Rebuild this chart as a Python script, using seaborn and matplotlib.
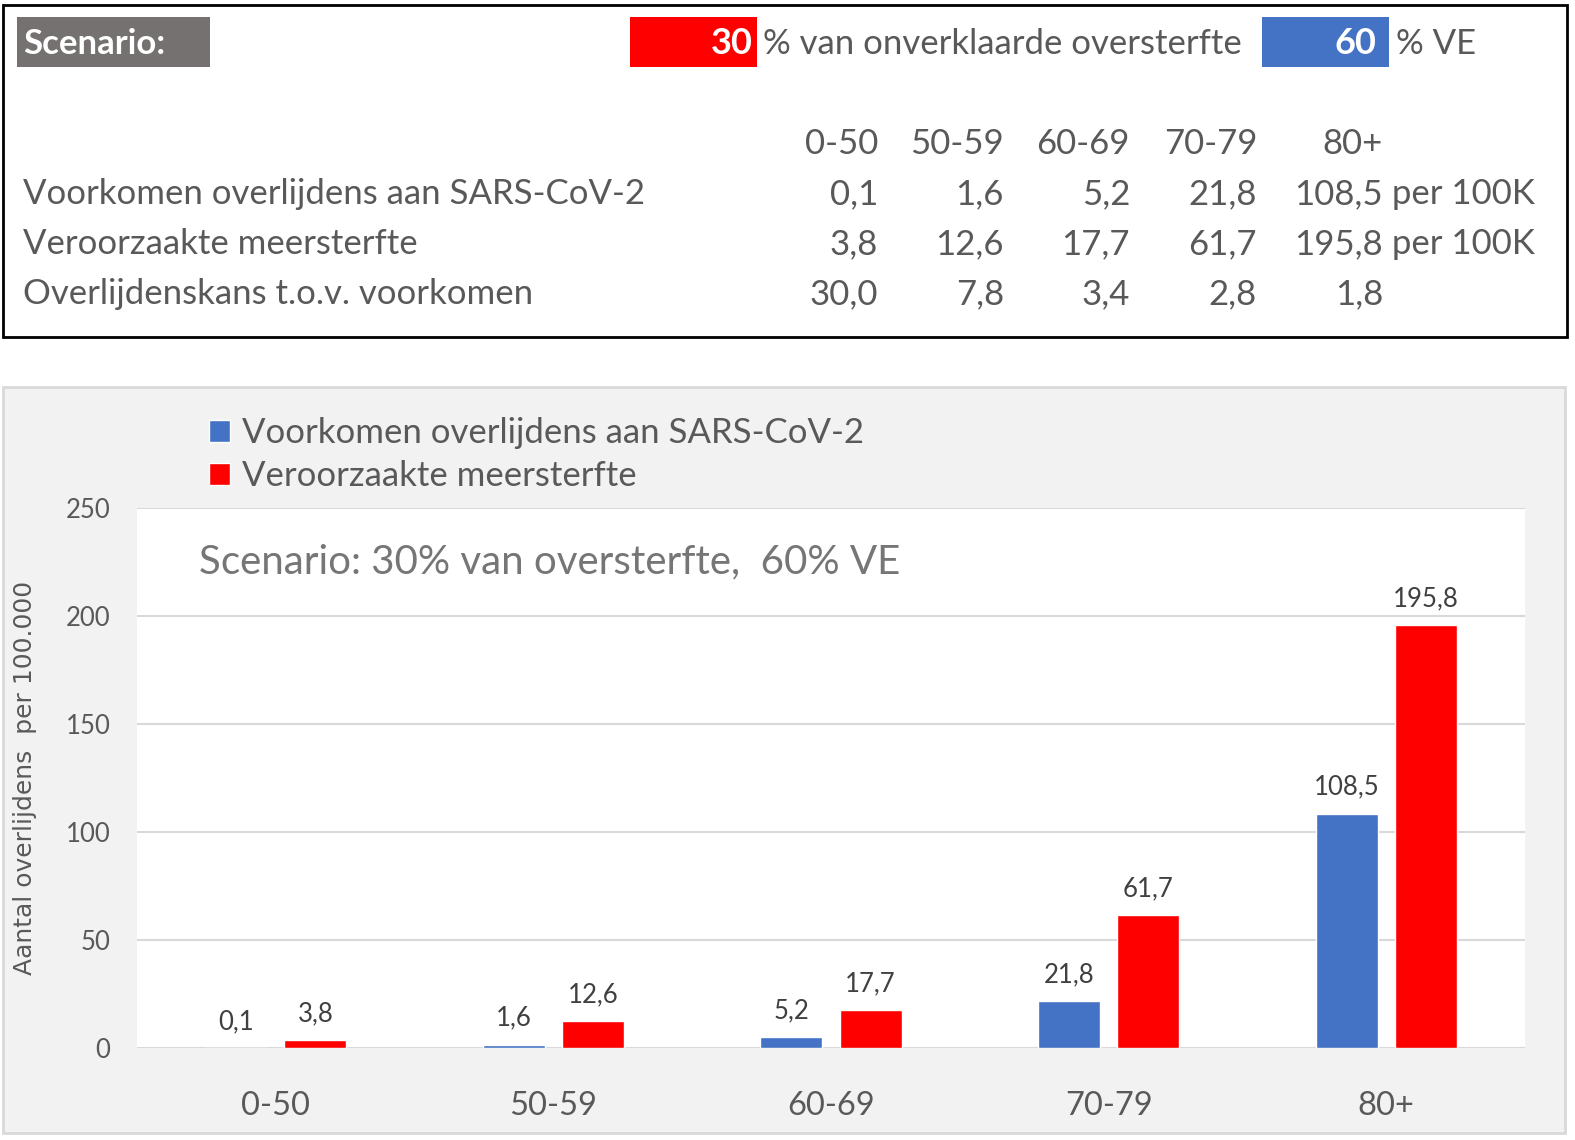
import pandas as pd
import matplotlib.pyplot as plt
import seaborn as sns
from matplotlib.patches import Rectangle, Patch

# Data
age_groups = ['0-50', '50-59', '60-69', '70-79', '80+']
voorkomen = [0.1, 1.6, 5.2, 21.8, 108.5]
meersterfte = [3.8, 12.6, 17.7, 61.7, 195.8]
overlijdenskans = [30.0, 7.8, 3.4, 2.8, 1.8]
scenario_pct = 30
ve_pct = 60

series_names = ['Voorkomen overlijdens aan SARS-CoV-2', 'Veroorzaakte meersterfte']
row3_name = 'Overlijdenskans t.o.v. voorkomen'

BLUE = '#4472C4'
RED = '#FF0000'
TXT = '#595959'

df = pd.DataFrame({
    'Leeftijd': age_groups * 2,
    'Waarde': voorkomen + meersterfte,
    'Reeks': [series_names[0]] * 5 + [series_names[1]] * 5,
})


def nl(v):
    return f'{v:.1f}'.replace('.', ',')


sns.set_theme(style='white')
plt.rcParams['font.family'] = ['Lato', 'DejaVu Sans']

fig = plt.figure(figsize=(15.75, 11.4), dpi=100)
fig.patch.set_facecolor('white')

# Background axes in pixel coordinates for the table and panels
bg = fig.add_axes([0, 0, 1, 1])
bg.set_xlim(0, 1575)
bg.set_ylim(1140, 0)
bg.axis('off')

FS = 25

# Top scenario/table box
bg.add_patch(Rectangle((3, 5), 1564, 332, fill=False, edgecolor='black', lw=2))
bg.add_patch(Rectangle((17, 17), 193, 50, facecolor='#767171', edgecolor='none'))
bg.text(23, 44, 'Scenario:', color='white', fontsize=25, fontweight='bold', va='center', ha='left')
bg.add_patch(Rectangle((630, 17), 127, 50, facecolor=RED, edgecolor='none'))
bg.text(753, 44, str(scenario_pct), color='white', fontsize=26, fontweight='bold', va='center', ha='right')
bg.text(763, 44, '% van onverklaarde oversterfte', color=TXT, fontsize=FS, va='center', ha='left')
bg.add_patch(Rectangle((1262, 17), 127, 50, facecolor=BLUE, edgecolor='none'))
bg.text(1376, 44, str(ve_pct), color='white', fontsize=26, fontweight='bold', va='center', ha='right')
bg.text(1396, 44, '% VE', color=TXT, fontsize=FS, va='center', ha='left')

col_right = [878, 1004, 1130, 1257, 1383]
rows_y = [144, 194, 244, 294]
for x, g in zip(col_right, age_groups):
    bg.text(x, rows_y[0], g, color=TXT, fontsize=FS, va='center', ha='right')
table_rows = [(series_names[0], voorkomen, ' per 100K'),
              (series_names[1], meersterfte, ' per 100K'),
              (row3_name, overlijdenskans, '')]
for (name, vals, unit), y in zip(table_rows, rows_y[1:]):
    bg.text(23, y, name, color=TXT, fontsize=FS, va='center', ha='left')
    for x, v in zip(col_right, vals):
        bg.text(x, y, nl(v), color=TXT, fontsize=FS, va='center', ha='right')
    if unit:
        bg.text(col_right[-1], y, unit, color=TXT, fontsize=FS, va='center', ha='left')

# Chart panel background
bg.add_patch(Rectangle((3, 387), 1562, 746, facecolor='#F2F2F2', edgecolor='#D9D9D9', lw=2))

# Chart axes
ax = fig.add_axes([137 / 1575, 1 - 1048 / 1140, 1388 / 1575, 540 / 1140])
ax.set_facecolor('white')
sns.barplot(data=df, x='Leeftijd', y='Waarde', hue='Reeks', palette=[BLUE, RED],
            width=0.57, gap=0.215, ax=ax, legend=False, saturation=1)

for cont in ax.containers:
    ax.bar_label(cont, labels=[nl(b.get_height()) for b in cont], padding=10,
                 fontsize=18.5, color='#404040')

ax.set_ylim(0, 250)
ax.set_yticks(range(0, 251, 50))
ax.set_xlim(-0.5, 4.5)
ax.grid(axis='y', color='#D9D9D9', lw=1.5)
ax.set_axisbelow(True)
for s in ax.spines.values():
    s.set_visible(False)
ax.tick_params(axis='y', length=0, pad=19, labelsize=18.5, labelcolor=TXT)
ax.tick_params(axis='x', length=0, pad=31, labelsize=23.5, labelcolor=TXT)
ax.set_xlabel('')
ax.set_ylabel('Aantal overlijdens  per 100.000', fontsize=18, color=TXT, family='DejaVu Sans')
ax.yaxis.set_label_coords(-0.072, 0.5)

ax.text(0.045, 0.9, f'Scenario: {scenario_pct}% van oversterfte,  {ve_pct}% VE',
        transform=ax.transAxes, fontsize=29, color='#767676', va='center', ha='left')

handles = [Patch(facecolor=BLUE), Patch(facecolor=RED)]
fig.legend(handles, series_names, loc='upper left', bbox_to_anchor=(195 / 1575, 1 - 403 / 1140),
           frameon=False, fontsize=25, labelcolor=TXT, handlelength=0.6, handleheight=0.6,
           handletextpad=0.35, labelspacing=0.32, borderaxespad=0)

plt.savefig('out.png', dpi=100)
